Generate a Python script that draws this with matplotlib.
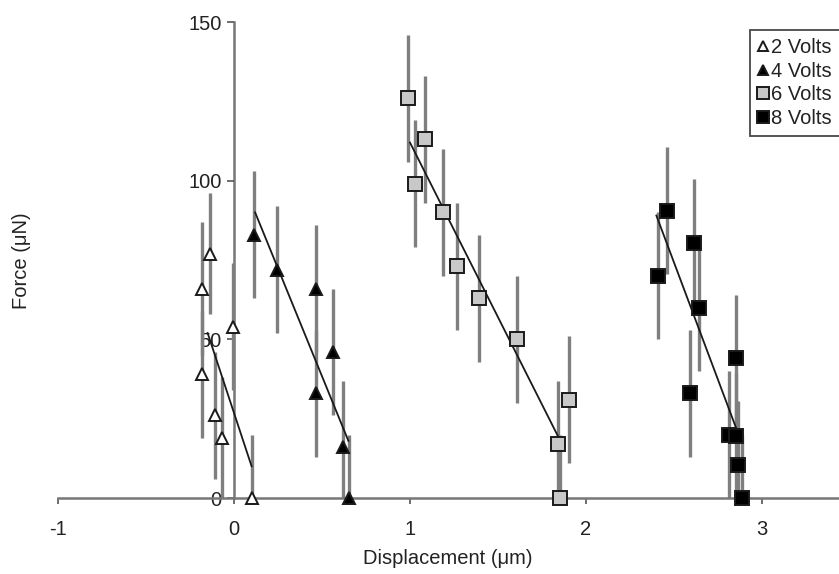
import matplotlib
matplotlib.use('Agg')
import matplotlib.pyplot as plt

plt.rcParams['font.family'] = ['Liberation Sans', 'DejaVu Sans']
plt.rcParams['axes.unicode_minus'] = False

# 2 Volts (open triangles)
x2 = [-0.136, -0.184, -0.184, -0.108, -0.07, -0.004, 0.10]
y2 = [77, 66, 39, 26, 19, 54, 0]
e2 = [19, 21, 20, 20, 19, 20, 20]
fit2_x = [-0.15, 0.10]
fit2_y = [52, 10]

# 4 Volts (filled triangles)
x4 = [0.114, 0.242, 0.465, 0.465, 0.56, 0.62, 0.655]
y4 = [83, 72, 66, 33, 46, 16, 0]
e4 = [20, 20, 20, 20, 20, 21, 20]
fit4_x = [0.12, 0.65]
fit4_y = [90, 18]

# 6 Volts (grey squares)
x6 = [0.99, 1.085, 1.028, 1.186, 1.269, 1.392, 1.61, 1.905, 1.843, 1.852]
y6 = [126, 113, 99, 90, 73, 63, 50, 31, 17, 0]
e6 = [20, 20, 20, 20, 20, 20, 20, 20, 20, 20]
fit6_x = [1.0, 1.845]
fit6_y = [112, 19]

# 8 Volts (black squares)
x8 = [2.458, 2.407, 2.614, 2.642, 2.59, 2.85, 2.81, 2.855, 2.866, 2.884]
y8 = [90.5, 70, 80.5, 60, 33, 44, 20, 19.5, 10.5, 0]
e8 = [20, 20, 20, 20, 20, 20, 20, 20, 20, 20]
fit8_x = [2.40, 2.86]
fit8_y = [89, 21]

xticks = [-1, 0, 1, 2, 3]
yticks = [0, 50, 100, 150]

W, H = 839, 574
fig = plt.figure(figsize=(W / 100, H / 100), dpi=100)
ax = fig.add_axes([58 / W, (H - 498) / H, (W - 58) / W, (498 - 22) / H])
ax.set_xlim(-1, (W - 234) / 176)
ax.set_ylim(0, 150)

bar_col = '#7f7f7f'
ink = '#222222'
fs = 14.5

series = [
    (x2, y2, e2, '^', 'white', 9, '2 Volts'),
    (x4, y4, e4, '^', 'black', 9, '4 Volts'),
    (x6, y6, e6, 's', '#c8c8c8', 10, '6 Volts'),
    (x8, y8, e8, 's', 'black', 10, '8 Volts'),
]
for xs, ys, es, m, fc, ms, lab in series:
    ax.errorbar(xs, ys, yerr=es, fmt='none', ecolor=bar_col, elinewidth=2.4,
                capsize=0, zorder=2)
    ax.plot(xs, ys, linestyle='none', marker=m, markersize=ms,
            markerfacecolor=fc, markeredgecolor='#1a1a1a', markeredgewidth=1.4,
            label=lab, zorder=4, clip_on=False)

for fx, fy in [(fit2_x, fit2_y), (fit4_x, fit4_y), (fit6_x, fit6_y), (fit8_x, fit8_y)]:
    ax.plot(fx, fy, color='#1a1a1a', lw=1.3, zorder=3)

for s in ['top', 'right']:
    ax.spines[s].set_visible(False)
ax.spines['left'].set_position(('data', 0))
ax.spines['left'].set_color('#777777')
ax.spines['bottom'].set_color('#777777')
ax.spines['left'].set_linewidth(1.8)
ax.spines['bottom'].set_linewidth(1.8)
ax.spines['left'].set_zorder(1)

ax.set_xticks(xticks)
ax.set_yticks(yticks)
ax.tick_params(axis='x', direction='out', length=4, width=1.2, color='#555555',
               pad=12, labelsize=fs, labelcolor=ink)
ax.tick_params(axis='y', direction='out', length=5, width=1.2, color='#555555',
               pad=4, labelsize=fs, labelcolor=ink)

fig.text(22 / W, 1 - 261 / H, 'Force (μN)', rotation=90, ha='center', va='center',
         fontsize=fs, color=ink)
fig.text(448 / W, 1 - 558 / H, 'Displacement (μm)', ha='center', va='center',
         fontsize=fs, color=ink)

leg = ax.legend(loc='upper left', bbox_to_anchor=(750 / W, 1 - 30 / H),
                bbox_transform=fig.transFigure, borderaxespad=0, frameon=True,
                fancybox=False, handlelength=0.45, handletextpad=0.2,
                borderpad=0.4, labelspacing=0.23, fontsize=fs, markerscale=0.85)
leg.get_frame().set_edgecolor('#1a1a1a')
leg.get_frame().set_linewidth(1.3)
for t in leg.get_texts():
    t.set_color(ink)

fig.savefig('out.png', dpi=100)
